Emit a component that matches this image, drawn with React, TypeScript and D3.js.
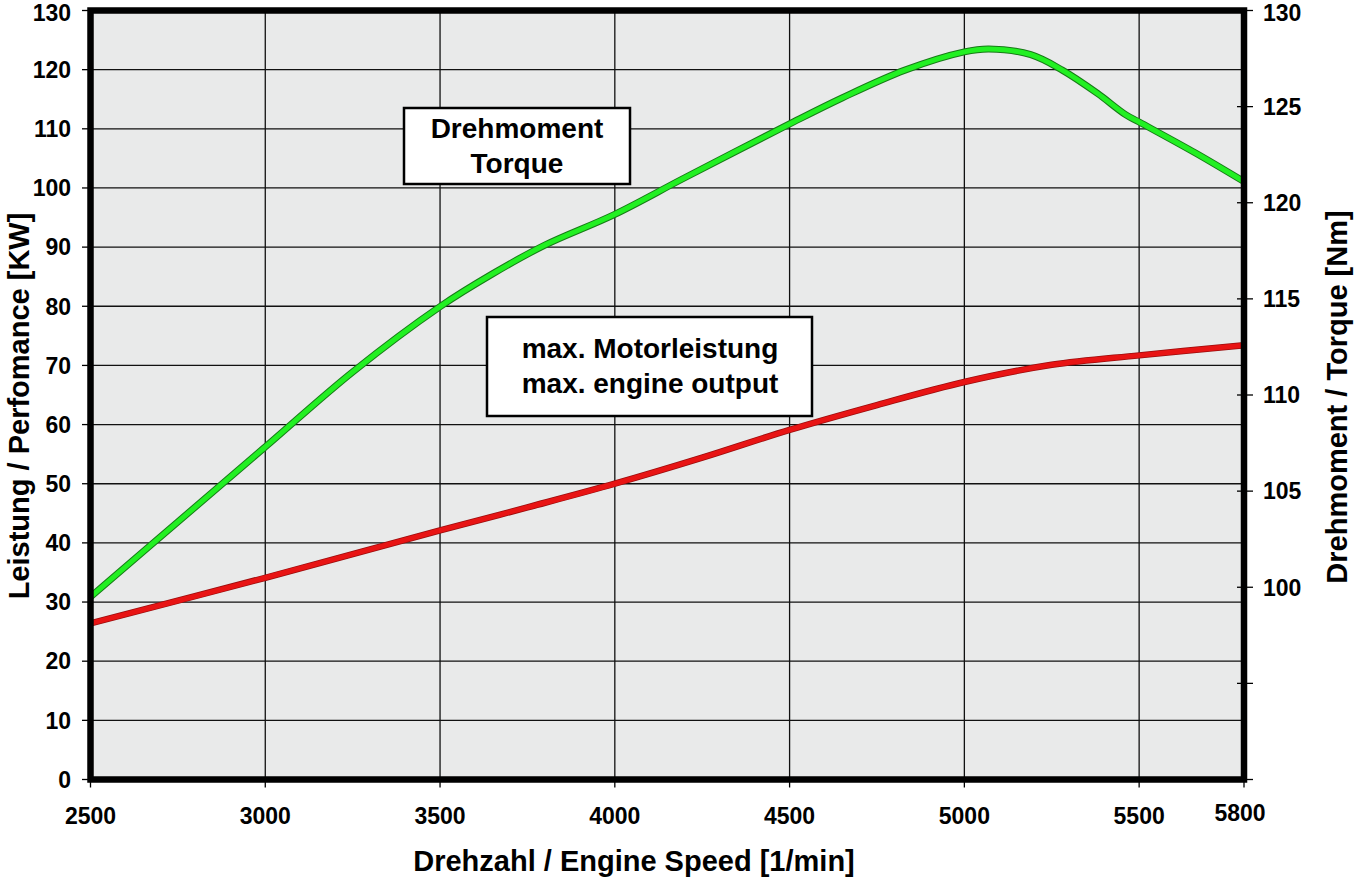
import * as d3 from 'd3'

// engine speed [1/min]
const torqueRpm = [2500, 2750, 3000, 3250, 3500, 3650, 3800, 4000, 4200, 4500, 4650, 4830, 5000, 5070, 5190, 5280, 5380, 5460, 5500, 5660, 5800]
// Drehmoment [Nm]
const torqueNm = [99.5, 103.4, 107.3, 111.2, 114.6, 116.3, 117.8, 119.4, 121.3, 124.1, 125.45, 126.9, 127.85, 128.0, 127.7, 126.9, 125.7, 124.6, 124.2, 122.6, 121.1]

const powerRpm = [2500, 3000, 3500, 3750, 4000, 4250, 4500, 4750, 5000, 5250, 5500, 5800]
// Leistung [KW]
const powerKw = [26.4, 34.1, 42.1, 46.0, 50.0, 54.4, 59.1, 63.3, 67.2, 70.1, 71.7, 73.4]

const xTicks = [2500, 3000, 3500, 4000, 4500, 5000, 5500, 5800]
const leftTicks = [0, 10, 20, 30, 40, 50, 60, 70, 80, 90, 100, 110, 120, 130]
const rightTicks = [90, 95, 100, 105, 110, 115, 120, 125, 130]
const rightLabels = [100, 105, 110, 115, 120, 125, 130]

const W = 1354
const H = 880
const left = 90.5
const right = 1244
const top = 10.5
const bottom = 779.5
const font = '"Liberation Sans", Arial, Helvetica, sans-serif'

export default function App() {
  const x = d3.scaleLinear().domain([2500, 5800]).range([left, right])
  const yL = d3.scaleLinear().domain([0, 130]).range([bottom, top])
  const yR = d3.scaleLinear().domain([90, 130]).range([bottom, top])

  const torqueLine = d3.line<number>()
    .x((_, i) => x(torqueRpm[i]))
    .y((d) => yR(d))
    .curve(d3.curveCatmullRom.alpha(0.5))

  const powerLine = d3.line<number>()
    .x((_, i) => x(powerRpm[i]))
    .y((d) => yL(d))
    .curve(d3.curveCatmullRom.alpha(0.5))

  const gridX = xTicks.filter((t) => t > 2500 && t < 5800)
  const gridY = leftTicks.filter((t) => t > 0 && t < 130)

  // the topmost labels sit a touch lower so they stay inside the page
  const labelY = (y: number) => Math.max(y, 13)

  return (
    <svg width={W} height={H} style={{ position: 'absolute', left: 0, top: 0, background: '#fff' }} fontFamily={font}>
      <rect x={left} y={top} width={right - left} height={bottom - top} fill="#e9eaea" />

      {gridX.map((t) => (
        <line key={'gx' + t} x1={x(t)} x2={x(t)} y1={top} y2={bottom} stroke="#111" strokeWidth={1.3} />
      ))}
      {gridY.map((t) => (
        <line key={'gy' + t} x1={left} x2={right} y1={yL(t)} y2={yL(t)} stroke="#111" strokeWidth={1.3} />
      ))}

      {/* curves */}
      <path d={powerLine(powerKw) || ''} fill="none" stroke="#9a0c0c" strokeWidth={6.5} />
      <path d={powerLine(powerKw) || ''} fill="none" stroke="#e81414" strokeWidth={5} />
      <path d={torqueLine(torqueNm) || ''} fill="none" stroke="#177a17" strokeWidth={7} />
      <path d={torqueLine(torqueNm) || ''} fill="none" stroke="#22f022" strokeWidth={5} />

      {/* frame */}
      <rect x={left} y={top} width={right - left} height={bottom - top} fill="none" stroke="#000" strokeWidth={6.5} />

      {/* left axis */}
      {leftTicks.map((t) => (
        <g key={'l' + t}>
          <line x1={82} x2={left} y1={yL(t)} y2={yL(t)} stroke="#000" strokeWidth={1.3} />
          <text x={71} y={labelY(yL(t))} dy="0.36em" textAnchor="end" fontSize={23} fontWeight="bold">{t}</text>
        </g>
      ))}

      {/* right axis */}
      {rightTicks.map((t) => (
        <line key={'r' + t} x1={right - 7} x2={right + 9} y1={yR(t)} y2={yR(t)} stroke="#000" strokeWidth={1.3} />
      ))}
      {rightLabels.map((t) => (
        <text key={'rl' + t} x={1263} y={labelY(yR(t))} dy="0.36em" fontSize={23} fontWeight="bold">{t}</text>
      ))}

      {/* bottom axis */}
      {xTicks.map((t) => (
        <g key={'x' + t}>
          <line x1={x(t)} x2={x(t)} y1={bottom} y2={bottom + 8} stroke="#000" strokeWidth={1.3} />
          <text
            x={t === 5800 ? x(t) - 4 : x(t)}
            y={t === 5800 ? 821 : 824}
            textAnchor="middle"
            fontSize={23}
            fontWeight="bold"
          >{t}</text>
        </g>
      ))}

      {/* axis titles */}
      <text x={634} y={871} textAnchor="middle" fontSize={29} fontWeight="bold">Drehzahl / Engine Speed [1/min]</text>
      <text transform="translate(29,406) rotate(-90)" textAnchor="middle" fontSize={29} fontWeight="bold">Leistung / Perfomance [KW]</text>
      <text transform="translate(1347,397) rotate(-90)" textAnchor="middle" fontSize={29} fontWeight="bold">Drehmoment / Torque [Nm]</text>

      {/* annotations */}
      <rect x={404} y={108} width={226} height={76} fill="#fff" stroke="#000" strokeWidth={2.5} />
      <text x={517} y={138} textAnchor="middle" fontSize={28} fontWeight="bold">Drehmoment</text>
      <text x={517} y={173} textAnchor="middle" fontSize={28} fontWeight="bold">Torque</text>

      <rect x={487} y={317} width={325} height={99} fill="#fff" stroke="#000" strokeWidth={2.5} />
      <text x={650} y={358} textAnchor="middle" fontSize={28} fontWeight="bold">max. Motorleistung</text>
      <text x={650} y={393} textAnchor="middle" fontSize={28} fontWeight="bold">max. engine output</text>
    </svg>
  )
}
